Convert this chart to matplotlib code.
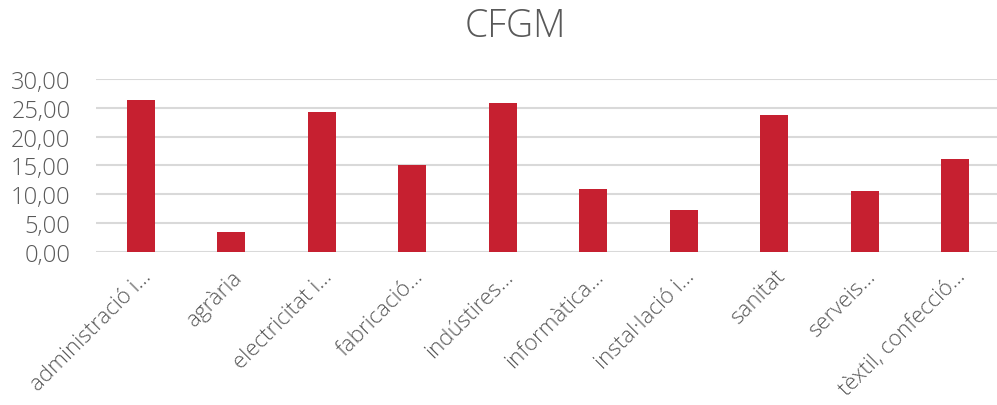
import matplotlib.pyplot as plt
from matplotlib.ticker import FuncFormatter

# Valors per família professional (CFGM)
families = ["administració i...", "agrària", "electricitat i...", "fabricació...",
            "indústires...", "informàtica...", "instal·lació i...", "sanitat",
            "serveis...", "tèxtil, confecció..."]
valors = [26.4, 3.4, 24.3, 15.1, 25.9, 10.9, 7.3, 23.8, 10.6, 16.1]

plt.rcParams['font.family'] = ['Open Sans', 'DejaVu Sans']
text_color = "#595959"

fig = plt.figure(figsize=(9.97, 4.06), dpi=100)
ax = fig.add_axes([0.0959, 0.378, 0.9077, 0.424])

x = range(len(families))
ax.bar(x, valors, width=0.31, color="#C62030", zorder=3)

ax.set_xlim(-0.5, len(families) - 0.5)
ax.set_ylim(0, 30)
ax.set_yticks(range(0, 31, 5))
ax.yaxis.set_major_formatter(FuncFormatter(lambda v, p: f"{v:.2f}".replace(".", ",")))
ax.grid(axis="y", color="#d9d9d9", linewidth=1.5, zorder=0)
ax.set_axisbelow(True)
for s in ax.spines.values():
    s.set_visible(False)
ax.tick_params(axis="both", length=0, labelsize=17, labelcolor=text_color)
ax.tick_params(axis="y", pad=18)
ax.tick_params(axis="x", pad=10)

ax.set_xticks(list(x))
ax.set_xticklabels(families, rotation=45, ha="right", rotation_mode="anchor",
                   fontsize=16, color=text_color, fontweight="light")
for lbl in ax.get_yticklabels():
    lbl.set_fontweight("light")

fig.text(0.517, 0.935, "CFGM", ha="center", va="center", fontsize=27,
         color=text_color, fontweight="light")

fig.savefig("out.png", dpi=100)
